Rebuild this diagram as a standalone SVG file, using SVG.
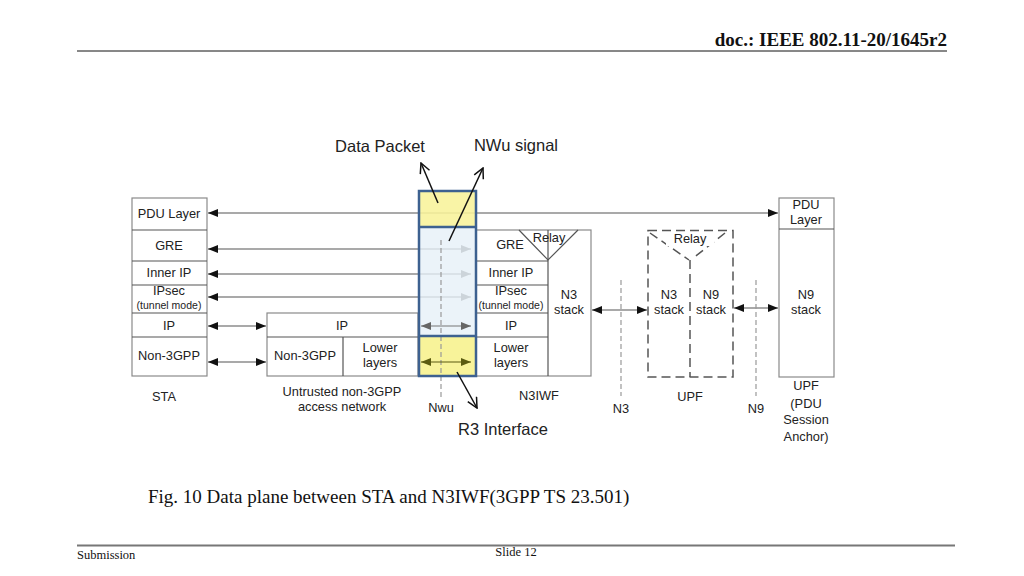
<svg xmlns="http://www.w3.org/2000/svg" width="1024" height="576" viewBox="0 0 1024 576">
<defs>
<marker id="ah" viewBox="0 0 10 8" refX="10" refY="4" markerWidth="11" markerHeight="8" markerUnits="userSpaceOnUse" orient="auto-start-reverse"><path d="M0,0 L10,4 L0,8 Z" fill="#111"/></marker>
<marker id="ahg" viewBox="0 0 10 8" refX="10" refY="4" markerWidth="11" markerHeight="8" markerUnits="userSpaceOnUse" orient="auto-start-reverse"><path d="M0,0 L10,4 L0,8 Z" fill="#666"/></marker>
<marker id="aho" viewBox="0 0 10 8" refX="10" refY="4" markerWidth="11" markerHeight="8" markerUnits="userSpaceOnUse" orient="auto-start-reverse"><path d="M0,0 L10,4 L0,8 Z" fill="#5b5b10"/></marker>
<marker id="open" viewBox="0 0 12 12" refX="11" refY="6" markerWidth="12" markerHeight="12" markerUnits="userSpaceOnUse" orient="auto"><path d="M1,1 L11,6 L1,11" fill="none" stroke="#111" stroke-width="1.5"/></marker>
</defs>
<style>
.t{font-family:"Liberation Sans",Arial,sans-serif;font-size:12.8px;fill:#222;text-anchor:middle}
.s{font-size:10.5px}
.big{font-family:"Liberation Sans",Arial,sans-serif;font-size:16.5px;fill:#222;text-anchor:middle}
.box{fill:#fff;stroke:#8a8a8a;stroke-width:1.2}
.ln{stroke:#555;stroke-width:1.2;fill:none}
.dash{stroke:#999;stroke-width:1.2;stroke-dasharray:5 3;fill:none}
.ldash{stroke:#555;stroke-width:1.5;stroke-dasharray:9 5;fill:none}
.serif{font-family:"Liberation Serif","Times New Roman",serif;fill:#111}
</style>
<rect width="1024" height="576" fill="#fff"/>

<!-- header / footer -->
<text class="serif" x="947" y="46" font-size="19" font-weight="bold" text-anchor="end">doc.: IEEE 802.11-20/1645r2</text>
<line x1="77" y1="51" x2="947" y2="51" stroke="#111" stroke-width="1"/>
<text class="serif" x="148" y="503" font-size="19">Fig. 10 Data plane between STA and N3IWF(3GPP TS 23.501)</text>
<line x1="77" y1="545.5" x2="955" y2="545.5" stroke="#777" stroke-width="2"/>
<text class="serif" x="77" y="559" font-size="12.5">Submission</text>
<text class="serif" x="516" y="556" font-size="12.5" text-anchor="middle">Slide 12</text>

<!-- STA -->
<g id="sta">
<rect class="box" x="132" y="198" width="75" height="178"/>
<line class="ln" x1="132" y1="230" x2="207" y2="230"/>
<line class="ln" x1="132" y1="261" x2="207" y2="261"/>
<line class="ln" x1="132" y1="285" x2="207" y2="285"/>
<line class="ln" x1="132" y1="313" x2="207" y2="313"/>
<line class="ln" x1="132" y1="337" x2="207" y2="337"/>
<text class="t" x="169" y="218">PDU Layer</text>
<text class="t" x="169" y="250">GRE</text>
<text class="t" x="169" y="277">Inner IP</text>
<text class="t" x="169" y="295">IPsec</text>
<text class="t s" x="169" y="309">(tunnel mode)</text>
<text class="t" x="169" y="330">IP</text>
<text class="t" x="169" y="360">Non-3GPP</text>
<text class="t" x="164" y="401">STA</text>
</g>

<!-- Untrusted non-3GPP -->
<g id="untrusted">
<rect class="box" x="267" y="313" width="151" height="63"/>
<line class="ln" x1="267" y1="337" x2="418" y2="337"/>
<line class="ln" x1="343" y1="337" x2="343" y2="376"/>
<text class="t" x="342" y="330">IP</text>
<text class="t" x="305" y="360">Non-3GPP</text>
<text class="t" x="380" y="352">Lower</text>
<text class="t" x="380" y="367">layers</text>
<text class="t" x="342" y="396">Untrusted non-3GPP</text>
<text class="t" x="342" y="411">access network</text>
</g>

<!-- N3IWF -->
<g id="n3iwf">
<rect class="box" x="476" y="230" width="115" height="146"/>
<line class="ln" x1="548" y1="230" x2="548" y2="376"/>
<line class="ln" x1="476" y1="261" x2="548" y2="261"/>
<line class="ln" x1="476" y1="285" x2="548" y2="285"/>
<line class="ln" x1="476" y1="313" x2="548" y2="313"/>
<line class="ln" x1="476" y1="337" x2="548" y2="337"/>
<path class="ln" d="M519,230 L548,260 L578,230"/>
<text class="t" x="549" y="242">Relay</text>
<text class="t" x="510" y="249">GRE</text>
<text class="t" x="511" y="277">Inner IP</text>
<text class="t" x="511" y="295">IPsec</text>
<text class="t s" x="511" y="309">(tunnel mode)</text>
<text class="t" x="511" y="330">IP</text>
<text class="t" x="511" y="352">Lower</text>
<text class="t" x="511" y="367">layers</text>
<text class="t" x="569" y="299">N3</text>
<text class="t" x="569" y="314">stack</text>
<text class="t" x="539" y="400">N3IWF</text>
</g>

<!-- UPF -->
<g id="upf">
<rect x="648" y="230.5" width="85" height="146.5" class="ldash"/>
<line class="ldash" x1="690" y1="260" x2="690" y2="377"/>
<path class="ldash" d="M650,233 L689,260" stroke-dasharray="8 6"/>
<path class="ldash" d="M725,233 L692,259" stroke-dasharray="8 6"/>
<rect x="666" y="233" width="48" height="13" fill="#fff"/>
<text class="t" x="690" y="243">Relay</text>
<text class="t" x="669" y="299">N3</text>
<text class="t" x="669" y="314">stack</text>
<text class="t" x="711" y="299">N9</text>
<text class="t" x="711" y="314">stack</text>
<text class="t" x="690" y="401">UPF</text>
</g>

<!-- UPF PDU Session Anchor -->
<g id="upf-psa">
<rect class="box" x="779" y="198" width="55" height="179"/>
<line class="ln" x1="779" y1="229" x2="834" y2="229"/>
<text class="t" x="806" y="209">PDU</text>
<text class="t" x="806" y="224">Layer</text>
<text class="t" x="806" y="299">N9</text>
<text class="t" x="806" y="314">stack</text>
<text class="t" x="806" y="390">UPF</text>
<text class="t" x="806" y="408">(PDU</text>
<text class="t" x="806" y="424">Session</text>
<text class="t" x="806" y="441">Anchor)</text>
</g>

<!-- connectors -->
<g id="connectors">
<line class="ln" x1="208" y1="213" x2="778" y2="213" marker-start="url(#ah)" marker-end="url(#ah)"/>
<line class="ln" x1="208" y1="249" x2="471" y2="249" marker-start="url(#ah)" marker-end="url(#ahg)"/>
<line class="ln" x1="208" y1="274" x2="471" y2="274" marker-start="url(#ah)" marker-end="url(#ahg)"/>
<line class="ln" x1="208" y1="297" x2="471" y2="297" marker-start="url(#ah)" marker-end="url(#ahg)"/>
<line class="ln" x1="208" y1="326" x2="266" y2="326" marker-start="url(#ah)" marker-end="url(#ah)"/>
<line class="ln" x1="208" y1="362" x2="266" y2="362" marker-start="url(#ah)" marker-end="url(#ah)"/>
<line class="ln" x1="592" y1="310" x2="647" y2="310" marker-start="url(#ah)" marker-end="url(#ah)"/>
<line class="ln" x1="734" y1="308" x2="778" y2="308" marker-start="url(#ah)" marker-end="url(#ah)"/>
<line class="dash" x1="621" y1="280" x2="621" y2="396"/>
<line class="dash" x1="756" y1="280" x2="756" y2="396"/>
<text class="t" x="621" y="413">N3</text>
<text class="t" x="756" y="413">N9</text>
</g>

<!-- Nwu / R3 interface box -->
<g id="r3-interface">
<rect x="419" y="191" width="57" height="36" fill="#f8f39a" fill-opacity="0.88"/>
<rect x="419" y="227" width="57" height="109" fill="#e6f0f8" fill-opacity="0.8"/>
<rect x="419" y="336" width="57" height="40" fill="#f8f39a"/>
<line class="dash" x1="441" y1="240" x2="441" y2="400"/>
<line x1="421" y1="326" x2="471" y2="326" stroke="#777" stroke-width="1.2" marker-start="url(#ahg)" marker-end="url(#ahg)"/>
<line x1="421" y1="362" x2="471" y2="362" stroke="#5b5b10" stroke-width="1.2" marker-start="url(#aho)" marker-end="url(#aho)"/>
<rect x="419" y="191" width="57" height="185" fill="none" stroke="#3d6190" stroke-width="2.5"/>
<line x1="419" y1="227" x2="476" y2="227" stroke="#3d6190" stroke-width="2.5"/>
<line x1="419" y1="336" x2="476" y2="336" stroke="#3d6190" stroke-width="2.5"/>
<text class="t" x="441" y="412">Nwu</text>
</g>

<g id="annotations">
<text class="big" x="380" y="152">Data Packet</text>
<text class="big" x="516" y="151">NWu signal</text>
<text class="big" x="503" y="435">R3 Interface</text>
<line x1="438" y1="203" x2="421" y2="163" stroke="#111" stroke-width="1.5" marker-end="url(#open)"/>
<line x1="449" y1="241" x2="483" y2="168" stroke="#111" stroke-width="1.5" marker-end="url(#open)"/>
<line x1="457" y1="372" x2="477" y2="408" stroke="#111" stroke-width="1.5" marker-end="url(#open)"/>
</g>
</svg>
